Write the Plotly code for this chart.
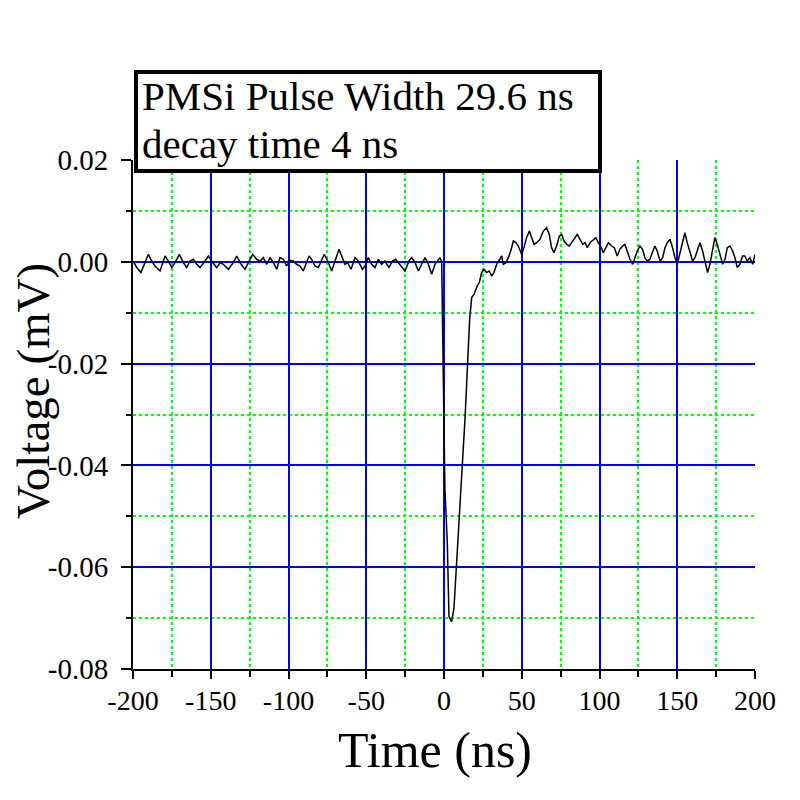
import plotly.graph_objects as go

time_ns = [
    -199.8, -197.6, -194.9, -192.3, -190.1, -188.0, -185.9, -182.6, -179.4, -177.3,
    -175.1, -173.0, -170.2, -167.6, -165.5, -163.3, -161.2, -159.0, -156.9, -153.7,
    -151.5, -149.4, -146.2, -144.0, -141.9, -138.7, -135.5, -133.3, -131.2, -128.0,
    -125.8, -123.0, -120.5, -118.3, -116.2, -114.0, -111.9, -109.7, -107.6, -105.5,
    -103.3, -101.2, -99.0, -96.9, -94.8, -92.6, -90.5, -88.3, -86.8, -85.1,
    -83.0, -80.8, -78.7, -77.0, -74.8, -72.2, -70.1, -67.5, -65.4, -63.7,
    -62.0, -59.8, -57.2, -55.1, -52.5, -50.8, -48.7, -46.5, -44.4, -42.2,
    -40.1, -38.0, -35.4, -33.2, -31.1, -29.4, -27.2, -25.1, -22.5, -20.8,
    -18.6, -16.5, -14.4, -12.2, -10.5, -7.9, -5.8, -4.1, -2.6, -1.5,
    -1.2, -0.6, 0.0, 0.6, 2.1, 3.2, 4.9, 6.4, 7.9, 9.6,
    11.8, 13.5, 15.0, 16.5, 17.8, 19.3, 21.4, 22.7, 24.2, 25.7,
    27.4, 29.1, 30.6, 32.1, 33.9, 35.6, 37.1, 38.1, 39.9, 41.4,
    42.9, 44.6, 46.3, 47.8, 49.9, 51.4, 53.1, 54.9, 56.4, 57.9,
    59.6, 61.7, 63.9, 66.0, 67.7, 69.2, 70.7, 72.4, 74.2, 75.7,
    77.2, 78.9, 80.6, 82.1, 84.2, 85.7, 87.5, 89.2, 90.7, 92.2,
    93.9, 96.0, 97.7, 99.2, 100.7, 102.5, 104.2, 105.7, 107.8, 109.5,
    111.4, 113.1, 114.8, 116.3, 117.8, 119.6, 121.3, 122.8, 124.3, 126.0,
    127.7, 129.2, 130.7, 132.4, 134.1, 135.6, 137.1, 138.9, 140.6, 142.1,
    143.6, 145.3, 147.0, 148.5, 150.0, 151.7, 153.4, 154.9, 156.4, 158.2,
    159.9, 161.4, 162.9, 164.6, 166.3, 167.8, 169.5, 171.0, 172.7, 174.2,
    175.7, 177.5, 179.2, 180.7, 182.2, 183.9, 185.6, 187.1, 188.6, 190.3,
    192.0, 193.5, 195.0, 196.7, 198.5, 200.0,
]

voltage_mv = [
    0.00016, -0.00114, -0.00212, -0.00016, 0.00147, 0.00016, -0.00082, -0.00180, 0.00114, 0.00016,
    -0.00114, -0.00016, 0.00147, -0.00016, -0.00114, 0.00016, 0.00049, -0.00049, -0.00114, 0.00016,
    0.00114, 0.00016, -0.00114, -0.00016, -0.00049, -0.00147, -0.00016, 0.00114, -0.00016, -0.00147,
    -0.00016, 0.00147, 0.00049, 0.00016, 0.00082, -0.00049, 0.00082, -0.00016, -0.00147, 0.00082,
    0.00049, -0.00082, 0.00029, 0.00016, -0.00049, -0.00082, -0.00180, 0.00016, 0.00114, 0.00049,
    -0.00082, -0.00114, 0.00049, 0.00147, 0.00016, -0.00180, 0.00016, 0.00245, 0.00082, -0.00049,
    -0.00016, -0.00147, 0.00082, 0.00016, -0.00147, -0.00082, 0.00082, -0.00049, -0.00114, 0.00049,
    -0.00049, 0.00016, -0.00114, 0.00016, 0.00049, -0.00016, -0.00082, -0.00180, 0.00016, 0.00082,
    -0.00016, -0.00180, -0.00049, 0.00082, -0.00016, -0.00245, -0.00049, 0.00016, 0.00082, 0.00000,
    -0.00870, -0.01980, -0.03220, -0.04460, -0.05500, -0.06970, -0.07070, -0.06810, -0.06030, -0.05110,
    -0.04200, -0.03090, -0.02110, -0.01130, -0.00700, -0.00640, -0.00470, -0.00408, -0.00212, -0.00147,
    -0.00212, -0.00180, -0.00278, -0.00212, -0.00049, 0.00049, 0.00114, -0.00049, -0.00016, 0.00082,
    0.00212, 0.00408, 0.00376, 0.00310, 0.00147, 0.00278, 0.00474, 0.00604, 0.00474, 0.00343,
    0.00376, 0.00441, 0.00604, 0.00670, 0.00539, 0.00278, 0.00180, 0.00310, 0.00506, 0.00539,
    0.00408, 0.00343, 0.00310, 0.00376, 0.00474, 0.00539, 0.00441, 0.00343, 0.00376, 0.00278,
    0.00376, 0.00441, 0.00474, 0.00376, 0.00310, 0.00180, 0.00278, 0.00376, 0.00310, 0.00278,
    0.00114, 0.00245, 0.00310, 0.00343, 0.00212, 0.00049, -0.00049, 0.00082, 0.00212, 0.00310,
    0.00245, 0.00082, 0.00016, 0.00049, 0.00212, 0.00310, 0.00212, 0.00016, 0.00082, 0.00278,
    0.00376, 0.00441, 0.00278, 0.00082, -0.00049, 0.00147, 0.00376, 0.00571, 0.00376, 0.00180,
    0.00016, 0.00082, 0.00212, 0.00376, 0.00212, -0.00016, -0.00212, -0.00049, 0.00212, 0.00474,
    0.00343, 0.00147, -0.00049, 0.00049, 0.00278, 0.00310, 0.00212, 0.00082, -0.00114, -0.00049,
    0.00114, 0.00114, 0.00016, 0.00082, -0.00049, 0.00147,
]

x_tick_vals = [-200, -150, -100, -50, 0, 50, 100, 150, 200]
x_tick_text = ["-200", "-150", "-100", "-50", "0", "50", "100", "150", "200"]
y_tick_vals = [-0.08, -0.06, -0.04, -0.02, 0.00, 0.02]
y_tick_text = ["-0.08", "-0.06", "-0.04", "-0.02", "0.00", "0.02"]

label_line1 = "PMSi Pulse Width 29.6 ns"
label_line2 = "decay time 4 ns"
x_title = "Time (ns)"
y_title = "Voltage (mV)"

FONT = "Liberation Serif, Times New Roman, serif"

fig = go.Figure()
fig.add_trace(go.Scatter(
    x=time_ns, y=voltage_mv, mode="lines",
    line=dict(color="black", width=1.5),
    showlegend=False, hoverinfo="skip",
))

axis_common = dict(
    showline=True, linecolor="black", linewidth=2,
    ticks="outside", tickwidth=1.5, tickcolor="black",
    showgrid=True, gridcolor="#0000ff", gridwidth=1.5,
    zeroline=False, mirror=False,
)

fig.update_layout(
    width=800, height=800,
    paper_bgcolor="white", plot_bgcolor="white",
    margin=dict(l=125, r=53, t=152, b=139),
    font=dict(family=FONT, color="black"),
    xaxis=dict(
        range=[-200, 200], tickmode="array", tickvals=x_tick_vals, ticktext=x_tick_text,
        ticklen=8, ticklabelstandoff=-3,
        tickfont=dict(family=FONT, size=28, color="black"),
        minor=dict(dtick=25, tick0=0, ticks="outside", ticklen=6, tickcolor="black",
                   showgrid=True, gridcolor="#00ff00", griddash="dot", gridwidth=1.5),
        **axis_common,
    ),
    yaxis=dict(
        range=[-0.08, 0.02], tickmode="array", tickvals=y_tick_vals, ticktext=y_tick_text,
        ticklen=10, ticklabelstandoff=7,
        tickfont=dict(family=FONT, size=29, color="black"),
        minor=dict(dtick=0.01, tick0=0, ticks="outside", ticklen=5, tickcolor="black",
                   showgrid=True, gridcolor="#00ff00", griddash="dot", gridwidth=1.5),
        **axis_common,
    ),
    annotations=[
        dict(text=" ", xref="paper", yref="paper", x=0.0016, y=1.1768,
             xanchor="left", yanchor="top", showarrow=False,
             font=dict(family=FONT, size=12, color="black"),
             bgcolor="white", bordercolor="black", borderwidth=4, borderpad=2,
             width=456, height=91),
        dict(text=label_line1, xref="paper", yref="paper", x=0.0129, y=1.1248,
             xanchor="left", yanchor="middle", showarrow=False, borderpad=0,
             font=dict(family=FONT, size=41, color="black")),
        dict(text=label_line2, xref="paper", yref="paper", x=0.0129, y=1.0324,
             xanchor="left", yanchor="middle", showarrow=False, borderpad=0,
             font=dict(family=FONT, size=41, color="black")),
        dict(text=x_title, xref="paper", yref="paper", x=0.4863, y=-0.159,
             xanchor="center", yanchor="middle", showarrow=False,
             font=dict(family=FONT, size=50, color="black")),
        dict(text=y_title, xref="paper", yref="paper", x=-0.1608, y=0.546,
             xanchor="center", yanchor="middle", textangle=-90, showarrow=False,
             borderpad=0, font=dict(family=FONT, size=47, color="black")),
    ],
)

fig.write_html("out.html")
